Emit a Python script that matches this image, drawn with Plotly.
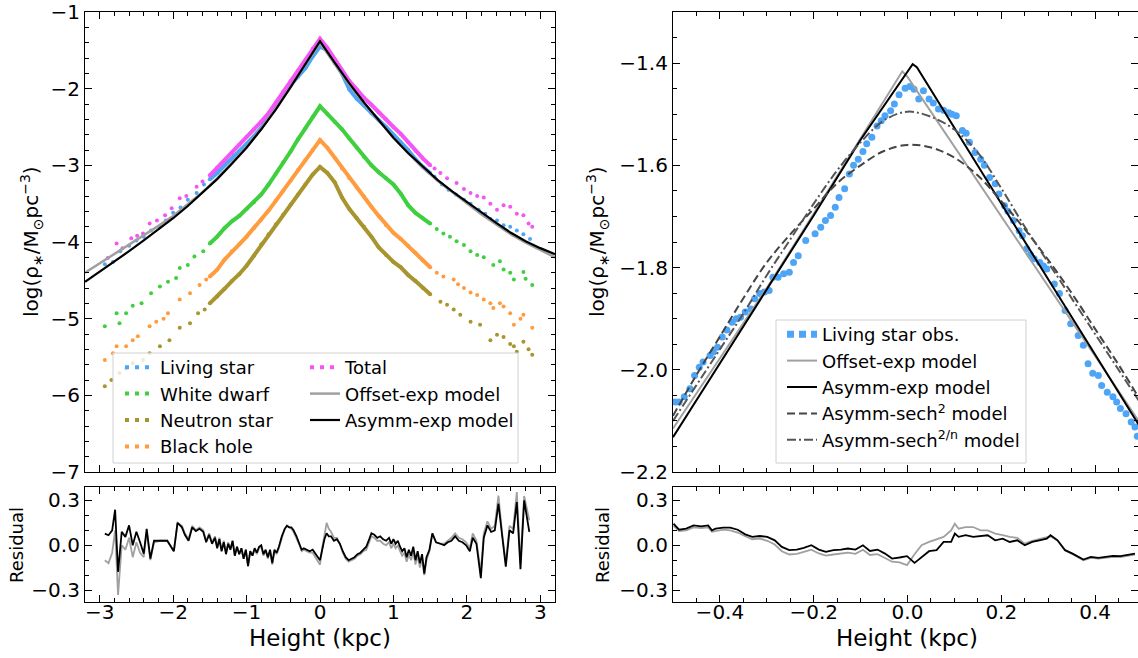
import plotly.graph_objects as go

# ---------------- DATA ----------------
# Left panel: dense central region (|z| <= 1.5 kpc), step 0.1 kpc
Z_DENSE = [-1.5, -1.4, -1.3, -1.2, -1.1, -1.0, -0.9, -0.8, -0.7, -0.6, -0.5, -0.4, -0.3, -0.2, -0.1, 0.0,
           0.1, 0.2, 0.3, 0.4, 0.5, 0.6, 0.7, 0.8, 0.9, 1.0, 1.1, 1.2, 1.3, 1.4, 1.5]
total_dense = [-3.13, -3.03, -2.94, -2.84, -2.73, -2.63, -2.53, -2.43, -2.32, -2.18, -2.04, -1.90, -1.77, -1.63, -1.48, -1.35,
               -1.47, -1.62, -1.77, -1.90, -2.01, -2.12, -2.21, -2.31, -2.40, -2.50, -2.59, -2.70, -2.81, -2.91, -3.00]
living_dense = [-3.18, -3.10, -3.00, -2.91, -2.82, -2.72, -2.62, -2.51, -2.37, -2.20, -2.06, -1.95, -1.845, -1.735, -1.58, -1.45,
                -1.50, -1.665, -1.805, -2.01, -2.13, -2.22, -2.32, -2.41, -2.50, -2.60, -2.70, -2.80, -2.92, -3.02, -3.10]
wd_dense = [-4.02, -3.93, -3.82, -3.73, -3.66, -3.57, -3.48, -3.38, -3.25, -3.11, -2.96, -2.82, -2.66, -2.52, -2.37, -2.23,
            -2.33, -2.43, -2.53, -2.65, -2.77, -2.89, -3.00, -3.09, -3.17, -3.25, -3.37, -3.52, -3.62, -3.69, -3.76]
ns_dense = [-4.80, -4.71, -4.61, -4.51, -4.42, -4.31, -4.18, -4.03, -3.90, -3.77, -3.64, -3.51, -3.38, -3.25, -3.12, -3.02,
            -3.10, -3.22, -3.42, -3.57, -3.69, -3.80, -3.93, -4.07, -4.17, -4.26, -4.33, -4.43, -4.51, -4.60, -4.68]
bh_dense = [-4.45, -4.36, -4.23, -4.12, -4.03, -3.93, -3.82, -3.71, -3.59, -3.46, -3.33, -3.20, -3.06, -2.93, -2.80, -2.67,
            -2.77, -2.90, -3.04, -3.17, -3.29, -3.41, -3.54, -3.66, -3.78, -3.88, -3.96, -4.05, -4.14, -4.24, -4.33]

# Left panel: sparse outer points (z, value)
total_out_z = [-2.89, -2.77, -2.69, -2.57, -2.49, -2.41, -2.32, -2.22, -2.11, -2.02, -1.91, -1.82, -1.68, -1.60,
               1.56, 1.64, 1.73, 1.86, 1.96, 2.05, 2.14, 2.23, 2.32, 2.41, 2.50, 2.59, 2.68, 2.77, 2.84, 2.89]
total_out_v = [-4.21, -4.02, -4.08, -3.95, -3.92, -3.89, -3.76, -3.72, -3.65, -3.56, -3.43, -3.40, -3.28, -3.21,
               -3.04, -3.10, -3.17, -3.23, -3.31, -3.36, -3.40, -3.42, -3.50, -3.58, -3.52, -3.54, -3.63, -3.65, -3.76, -3.80]
living_out_z = [-2.93, -2.82, -2.72, -2.60, -2.50, -2.40, -2.30, -2.18, -2.10, -2.00, -1.90, -1.80, -1.68, -1.58,
                1.56, 1.66, 1.75, 1.85, 1.96, 2.05, 2.16, 2.25, 2.32, 2.41, 2.50, 2.59, 2.68, 2.77, 2.86]
living_out_v = [-4.29, -4.26, -4.12, -4.05, -3.98, -3.93, -3.85, -3.80, -3.72, -3.62, -3.55, -3.45, -3.36, -3.25,
                -3.15, -3.25, -3.32, -3.38, -3.45, -3.50, -3.58, -3.63, -3.70, -3.72, -3.78, -3.80, -3.85, -3.90, -3.96]
wd_out_z = [-2.93, -2.77, -2.73, -2.64, -2.55, -2.43, -2.30, -2.18, -2.07, -1.96, -1.91, -1.80, -1.71, -1.59,
            1.59, 1.68, 1.77, 1.86, 1.96, 2.05, 2.14, 2.23, 2.36, 2.45, 2.50, 2.59, 2.64, 2.77, 2.80, 2.89]
wd_out_v = [-5.10, -4.93, -5.06, -4.93, -4.83, -4.80, -4.67, -4.58, -4.52, -4.47, -4.34, -4.30, -4.19, -4.12,
            -3.83, -3.89, -3.93, -3.99, -4.04, -4.12, -4.17, -4.20, -4.30, -4.25, -4.36, -4.40, -4.49, -4.39, -4.48, -4.56]
ns_out_z = [-2.93, -2.84, -2.73, -2.64, -2.55, -2.41, -2.32, -2.18, -2.05, -1.91, -1.77, -1.66, -1.57,
            1.64, 1.73, 1.82, 1.91, 2.05, 2.18, 2.32, 2.41, 2.50, 2.59, 2.64, 2.68, 2.77, 2.84, 2.89]
ns_out_v = [-5.88, -5.80, -5.71, -5.65, -5.58, -5.54, -5.45, -5.36, -5.28, -5.12, -5.06, -4.93, -4.88,
            -4.78, -4.82, -4.88, -4.95, -5.04, -5.08, -5.28, -5.21, -5.24, -5.33, -5.36, -5.43, -5.30, -5.40, -5.47]
bh_out_z = [-2.93, -2.82, -2.77, -2.64, -2.55, -2.48, -2.32, -2.23, -2.13, -2.07, -1.91, -1.77, -1.64, -1.55,
            1.59, 1.68, 1.82, 1.88, 1.96, 2.05, 2.14, 2.23, 2.32, 2.36, 2.45, 2.50, 2.59, 2.64, 2.73, 2.77, 2.89]
bh_out_v = [-5.54, -5.45, -5.36, -5.36, -5.28, -5.23, -5.10, -5.04, -5.00, -4.93, -4.75, -4.67, -4.56, -4.49,
            -4.40, -4.45, -4.49, -4.55, -4.60, -4.66, -4.69, -4.75, -4.80, -4.86, -4.80, -4.84, -4.93, -5.08, -5.00, -4.95, -5.12]

# Left panel model curves
Z_MODEL = [-3.2, -3.0, -2.8, -2.6, -2.4, -2.2, -2.0, -1.8, -1.6, -1.4, -1.2, -1.0, -0.8, -0.6, -0.4, -0.2, 0.0,
           0.2, 0.4, 0.6, 0.8, 1.0, 1.2, 1.4, 1.6, 1.8, 2.0, 2.2, 2.4, 2.6, 2.8, 3.0, 3.2]
asymm_exp = [-4.52, -4.39, -4.26, -4.12, -3.98, -3.84, -3.69, -3.53, -3.36, -3.18, -2.98, -2.77, -2.53, -2.27, -1.98, -1.68, -1.38,
             -1.66, -1.93, -2.18, -2.41, -2.64, -2.84, -3.02, -3.19, -3.34, -3.48, -3.62, -3.75, -3.88, -3.99, -4.08, -4.16]
offset_exp = [-4.40, -4.28, -4.16, -4.04, -3.92, -3.79, -3.66, -3.51, -3.35, -3.17, -2.97, -2.76, -2.52, -2.26, -1.98, -1.69, -1.40,
              -1.68, -1.95, -2.19, -2.42, -2.64, -2.84, -3.03, -3.20, -3.35, -3.50, -3.64, -3.77, -3.90, -4.01, -4.11, -4.20]

# Left residuals
res_l_z = [-2.93, -2.88, -2.83, -2.79, -2.75, -2.70, -2.65, -2.60, -2.55, -2.50, -2.45, -2.40, -2.36, -2.31, -2.26, -2.18, -2.08,
           -1.99, -1.94, -1.88, -1.84, -1.79, -1.74, -1.69, -1.64, -1.59, -1.55, -1.51, -1.47, -1.43, -1.40, -1.37, -1.34, -1.31,
           -1.28, -1.25, -1.22, -1.19, -1.16, -1.13, -1.10, -1.07, -1.04, -1.01, -0.98, -0.95, -0.92, -0.89, -0.86, -0.83, -0.80,
           -0.77, -0.74, -0.71, -0.68, -0.65, -0.62, -0.59, -0.56, -0.52, -0.48, -0.45, -0.42, -0.39, -0.36, -0.32, -0.28, -0.25,
           -0.22, -0.18, -0.14, -0.10, -0.06, -0.03, 0.00, 0.03, 0.06, 0.09, 0.12, 0.15, 0.19, 0.23, 0.27, 0.31, 0.35, 0.39, 0.43,
           0.47, 0.51, 0.55, 0.59, 0.63, 0.67, 0.70, 0.74, 0.78, 0.82, 0.86, 0.90, 0.94, 0.97, 1.00, 1.03, 1.06, 1.09, 1.12, 1.15,
           1.18, 1.21, 1.24, 1.27, 1.30, 1.33, 1.36, 1.39, 1.42, 1.45, 1.49, 1.53, 1.58, 1.64, 1.69, 1.74, 1.79, 1.84, 1.89, 1.94,
           1.99, 2.04, 2.08, 2.13, 2.19, 2.23, 2.28, 2.33, 2.38, 2.43, 2.48, 2.53, 2.58, 2.63, 2.68, 2.73, 2.78, 2.85]
res_l_asymm = [0.078, 0.067, 0.100, 0.238, -0.178, 0.090, 0.056, 0.133, 0.000, 0.090, 0.020, -0.056, 0.110, -0.090, 0.030, 0.030, 0.030,
               -0.040, 0.150, 0.120, 0.070, 0.030, 0.120, 0.095, 0.110, 0.090, 0.020, 0.070, 0.010, 0.050, -0.020, 0.040, -0.040, 0.020,
               -0.060, 0.010, -0.030, 0.030, -0.070, -0.010, -0.060, -0.020, -0.090, -0.030, -0.140, -0.040, -0.070, -0.020, -0.050, -0.010, 0.000,
               -0.060, -0.030, -0.080, -0.030, -0.120, -0.030, -0.050, -0.010, 0.060, 0.110, 0.130, 0.120, 0.120, 0.100, 0.060, 0.010, -0.030,
               -0.020, -0.030, -0.040, -0.030, -0.060, -0.080, -0.100, -0.030, 0.040, 0.080, 0.060, 0.060, 0.030, 0.040, 0.010, -0.040, -0.080, -0.100, -0.090,
               -0.080, -0.060, -0.050, -0.030, -0.010, 0.040, 0.080, 0.070, 0.050, 0.060, 0.040, 0.030, 0.050, 0.010, 0.040, 0.010, 0.030, -0.010, -0.040, -0.020,
               -0.080, -0.030, -0.070, -0.010, -0.100, -0.040, -0.120, -0.060, -0.190, -0.080, -0.030, 0.080, 0.020, 0.010, 0.000, 0.020, 0.030, 0.060, 0.030, 0.020,
               0.000, -0.040, 0.050, 0.010, -0.220, 0.050, 0.133, 0.089, 0.100, 0.278, 0.056, -0.144, 0.100, 0.080, 0.289, -0.160, 0.300, 0.090]
res_l_offset = [-0.100, -0.120, -0.050, 0.100, -0.333, 0.000, -0.030, 0.050, -0.080, 0.020, -0.050, -0.080, 0.090, -0.100, 0.020, 0.030, 0.030,
                -0.040, 0.150, 0.130, 0.080, 0.040, 0.130, 0.100, 0.120, 0.100, 0.030, 0.080, 0.020, 0.060, -0.010, 0.050, -0.030, 0.030,
                -0.050, 0.020, -0.020, 0.030, -0.070, -0.010, -0.060, -0.020, -0.090, -0.030, -0.140, -0.040, -0.070, -0.030, -0.060, -0.020, -0.010,
                -0.070, -0.040, -0.090, -0.040, -0.130, -0.040, -0.060, -0.020, 0.050, 0.110, 0.130, 0.120, 0.110, 0.090, 0.050, 0.000, -0.040,
                -0.030, -0.040, -0.050, -0.050, -0.080, -0.100, -0.130, -0.020, 0.080, 0.150, 0.110, 0.090, 0.050, 0.050, 0.010, -0.050, -0.090, -0.110, -0.100,
                -0.090, -0.070, -0.060, -0.040, -0.030, 0.020, 0.060, 0.050, 0.030, 0.030, 0.010, 0.000, 0.020, -0.020, 0.010, -0.020, 0.000, -0.040, -0.070, -0.050,
                -0.110, -0.060, -0.100, -0.040, -0.130, -0.070, -0.150, -0.090, -0.200, -0.100, -0.040, 0.080, 0.020, 0.010, 0.010, 0.030, 0.050, 0.080, 0.050, 0.040,
                0.020, -0.020, 0.080, 0.030, -0.180, 0.080, 0.160, 0.110, 0.130, 0.333, 0.080, -0.120, 0.130, 0.110, 0.356, -0.120, 0.330, 0.167]

# Right panel: living-star observations
obs_z = [-0.495, -0.487, -0.476, -0.464, -0.454, -0.444, -0.436, -0.421, -0.414, -0.405, -0.395, -0.385, -0.374, -0.365, -0.356,
         -0.346, -0.334, -0.326, -0.315, -0.305, -0.295, -0.287, -0.276, -0.264, -0.252, -0.243, -0.233, -0.217, -0.197, -0.185,
         -0.175, -0.164, -0.154, -0.146, -0.134, -0.124, -0.115, -0.105, -0.095, -0.087, -0.076, -0.065, -0.056, -0.048, -0.036,
         -0.028, -0.018, -0.005, 0.005, 0.014, 0.024, 0.034, 0.046, 0.055, 0.066, 0.077, 0.088, 0.095, 0.104, 0.117, 0.125, 0.132,
         0.144, 0.156, 0.164, 0.175, 0.187, 0.195, 0.207, 0.214, 0.226, 0.238, 0.245, 0.254, 0.262, 0.270, 0.282, 0.290, 0.297,
         0.313, 0.324, 0.336, 0.348, 0.364, 0.375, 0.385, 0.395, 0.407, 0.414, 0.426, 0.438, 0.446, 0.454, 0.466, 0.477, 0.485, 0.490]
obs_v = [-2.063, -2.063, -2.053, -2.037, -2.011, -1.995, -1.985, -1.972, -1.965, -1.956, -1.936, -1.922, -1.907, -1.900, -1.897,
         -1.887, -1.881, -1.861, -1.851, -1.848, -1.845, -1.819, -1.819, -1.812, -1.809, -1.790, -1.777, -1.747, -1.734, -1.721,
         -1.708, -1.698, -1.682, -1.663, -1.646, -1.617, -1.600, -1.588, -1.573, -1.558, -1.545, -1.523, -1.513, -1.503, -1.493,
         -1.480, -1.462, -1.449, -1.446, -1.451, -1.470, -1.454, -1.470, -1.478, -1.490, -1.492, -1.497, -1.500, -1.503, -1.532, -1.537, -1.555,
         -1.575, -1.588, -1.600, -1.624, -1.636, -1.656, -1.679, -1.690, -1.708, -1.728, -1.738, -1.763, -1.775, -1.783, -1.790, -1.797, -1.803,
         -1.832, -1.851, -1.884, -1.910, -1.933, -1.952, -1.988, -2.007, -2.011, -2.031, -2.044, -2.053, -2.063, -2.076, -2.086, -2.102, -2.112, -2.130]

# Right panel model curves
r_exp_z = [-0.5, -0.4, -0.3, -0.2, -0.1, 0.011, 0.02, 0.1, 0.2, 0.3, 0.4, 0.5]
r_asymm_exp = [-2.132, -1.988, -1.843, -1.698, -1.550, -1.402, -1.408, -1.527, -1.675, -1.823, -1.970, -2.118]
r_off_z = [-0.5, -0.4, -0.3, -0.2, -0.1, -0.011, 0.0, 0.1, 0.2, 0.3, 0.4, 0.5]
r_offset_exp = [-2.115, -1.978, -1.840, -1.695, -1.548, -1.416, -1.427, -1.563, -1.700, -1.836, -1.973, -2.110]
r_sech_z = [-0.5, -0.45, -0.4, -0.35, -0.3, -0.25, -0.2, -0.15, -0.1, -0.05, 0.0, 0.05, 0.1, 0.15, 0.2, 0.25, 0.3, 0.35, 0.4, 0.45, 0.5]
r_sech2 = [-2.090, -2.010, -1.935, -1.860, -1.790, -1.735, -1.685, -1.635, -1.600, -1.572, -1.560, -1.565, -1.585, -1.620, -1.670,
           -1.725, -1.785, -1.850, -1.920, -1.990, -2.065]
r_sech2n = [-2.100, -2.030, -1.960, -1.890, -1.815, -1.745, -1.675, -1.610, -1.555, -1.512, -1.495, -1.505, -1.530, -1.575, -1.645,
            -1.720, -1.790, -1.860, -1.930, -2.000, -2.070]

# Right residuals
res_r_z = [-0.499, -0.487, -0.472, -0.456, -0.440, -0.425, -0.417, -0.409, -0.393, -0.378, -0.362, -0.346, -0.331, -0.315, -0.299,
           -0.283, -0.268, -0.252, -0.236, -0.221, -0.205, -0.189, -0.174, -0.158, -0.142, -0.127, -0.111, -0.095, -0.080, -0.064,
           -0.048, -0.033, -0.017, -0.001, 0.015, 0.030, 0.046, 0.062, 0.077, 0.093, 0.101, 0.109, 0.124, 0.140, 0.156, 0.171,
           0.187, 0.203, 0.218, 0.234, 0.250, 0.266, 0.281, 0.297, 0.305, 0.320, 0.336, 0.352, 0.375, 0.391, 0.407, 0.422, 0.438,
           0.454, 0.469, 0.485]
res_r_asymm = [0.144, 0.104, 0.111, 0.133, 0.127, 0.133, 0.100, 0.111, 0.118, 0.118, 0.104, 0.073, 0.056, 0.062, 0.056,
               0.033, -0.011, -0.033, -0.029, -0.018, 0.000, -0.029, -0.044, -0.033, -0.029, -0.022, -0.029, 0.000, -0.038, -0.029,
               -0.056, -0.089, -0.082, -0.073, -0.118, -0.082, -0.040, -0.033, 0.022, 0.022, 0.078, 0.056, 0.067, 0.056, 0.060, 0.067,
               0.033, 0.044, 0.022, 0.033, 0.000, 0.022, 0.033, 0.044, 0.067, 0.033, -0.033, -0.056, -0.096, -0.078, -0.084, -0.078, -0.071,
               -0.073, -0.067, -0.056]
res_r_offset = [0.130, 0.095, 0.100, 0.120, 0.115, 0.120, 0.090, 0.095, 0.105, 0.100, 0.085, 0.060, 0.040, 0.045, 0.030,
                0.005, -0.040, -0.062, -0.058, -0.045, -0.030, -0.055, -0.070, -0.062, -0.058, -0.050, -0.058, -0.030, -0.065, -0.060,
                -0.085, -0.110, -0.115, -0.133, -0.060, 0.000, 0.022, 0.040, 0.056, 0.100, 0.144, 0.111, 0.122, 0.122, 0.100, 0.100,
                0.078, 0.067, 0.056, 0.050, 0.011, 0.030, 0.040, 0.050, 0.060, 0.030, -0.033, -0.060, -0.100, -0.085, -0.090, -0.085, -0.078,
                -0.080, -0.072, -0.063]

# ---------------- STYLE ----------------
FW, FH = 1138, 658
C_LIVING = "#4ea5f7"
C_WD = "#3fcf3f"
C_NS = "#a8952f"
C_BH = "#ff9c40"
C_TOT = "#f455f4"
C_GRAY = "#a0a0a0"
FONT = "DejaVu Sans"
YTITLE = "log(ρ<sub>∗</sub>/M<sub>⊙</sub>pc<sup>−3</sup>)"


def fx(px):
    """page pixel x -> paper fraction"""
    return px / FW


def fy(py):
    """page pixel y -> paper fraction"""
    return 1 - py / FH


fig = go.Figure()

# ---- left main panel ----
for zd, vd, zo, vo, col in [
    (Z_DENSE, living_dense, living_out_z, living_out_v, C_LIVING),
    (Z_DENSE, wd_dense, wd_out_z, wd_out_v, C_WD),
    (Z_DENSE, ns_dense, ns_out_z, ns_out_v, C_NS),
    (Z_DENSE, bh_dense, bh_out_z, bh_out_v, C_BH),
    (Z_DENSE, total_dense, total_out_z, total_out_v, C_TOT),
]:
    fig.add_trace(go.Scatter(x=zd, y=vd, mode="lines+markers", line=dict(color=col, width=4),
                             marker=dict(color=col, size=4), showlegend=False, xaxis="x", yaxis="y"))
    fig.add_trace(go.Scatter(x=zo, y=vo, mode="markers", marker=dict(color=col, size=4),
                             showlegend=False, xaxis="x", yaxis="y"))

fig.add_trace(go.Scatter(x=Z_MODEL, y=offset_exp, mode="lines", line=dict(color=C_GRAY, width=2.5),
                         showlegend=False, xaxis="x", yaxis="y"))
fig.add_trace(go.Scatter(x=Z_MODEL, y=asymm_exp, mode="lines", line=dict(color="black", width=2.2),
                         showlegend=False, xaxis="x", yaxis="y"))

# legend entries (left)
for i, (name, col, lg) in enumerate([("Living star", C_LIVING, "legend"), ("White dwarf", C_WD, "legend"),
                                     ("Neutron star", C_NS, "legend"), ("Black hole", C_BH, "legend"),
                                     ("Total", C_TOT, "legend3")]):
    fig.add_trace(go.Scatter(x=[None], y=[None], mode="lines", name=name, legend=lg, legendgroup="l%d" % i,
                             line=dict(color=col, width=4, dash="4px,6px"), xaxis="x", yaxis="y"))
fig.add_trace(go.Scatter(x=[None], y=[None], mode="lines", name="Offset-exp model", legend="legend3", legendgroup="l5",
                         line=dict(color=C_GRAY, width=2.5), xaxis="x", yaxis="y"))
fig.add_trace(go.Scatter(x=[None], y=[None], mode="lines", name="Asymm-exp model", legend="legend3", legendgroup="l6",
                         line=dict(color="black", width=2.2), xaxis="x", yaxis="y"))

# ---- left residuals ----
fig.add_trace(go.Scatter(x=res_l_z, y=res_l_offset, mode="lines", line=dict(color=C_GRAY, width=1.8),
                         showlegend=False, xaxis="x2", yaxis="y2"))
fig.add_trace(go.Scatter(x=res_l_z, y=res_l_asymm, mode="lines", line=dict(color="black", width=1.8),
                         showlegend=False, xaxis="x2", yaxis="y2"))

# ---- right main panel ----
fig.add_trace(go.Scatter(x=obs_z, y=obs_v, mode="markers", marker=dict(color=C_LIVING, size=7),
                         showlegend=False, xaxis="x3", yaxis="y3"))
fig.add_trace(go.Scatter(x=r_off_z, y=r_offset_exp, mode="lines", line=dict(color=C_GRAY, width=2),
                         showlegend=False, xaxis="x3", yaxis="y3"))
fig.add_trace(go.Scatter(x=r_exp_z, y=r_asymm_exp, mode="lines", line=dict(color="black", width=2),
                         showlegend=False, xaxis="x3", yaxis="y3"))
fig.add_trace(go.Scatter(x=r_sech_z, y=r_sech2, mode="lines", line=dict(color="#444444", width=2, dash="8px,4px"),
                         showlegend=False, xaxis="x3", yaxis="y3", line_shape="spline"))
fig.add_trace(go.Scatter(x=r_sech_z, y=r_sech2n, mode="lines",
                         line=dict(color="#555555", width=2, dash="9px,3px,2px,3px"),
                         showlegend=False, xaxis="x3", yaxis="y3", line_shape="spline"))

for i, (name, ln) in enumerate([("Living star obs.", dict(color=C_LIVING, width=7, dash="7px,5px")),
                                ("Offset-exp model", dict(color=C_GRAY, width=2)),
                                ("Asymm-exp model", dict(color="black", width=2)),
                                ("Asymm-sech<sup>2</sup> model", dict(color="#444444", width=2, dash="8px,4px")),
                                ("Asymm-sech<sup>2/n</sup> model", dict(color="#555555", width=2, dash="9px,3px,2px,3px"))]):
    fig.add_trace(go.Scatter(x=[None], y=[None], mode="lines", name=name, legend="legend2", legendgroup="r%d" % i,
                             line=ln, xaxis="x3", yaxis="y3"))

# ---- right residuals ----
fig.add_trace(go.Scatter(x=res_r_z, y=res_r_offset, mode="lines", line=dict(color=C_GRAY, width=1.8),
                         showlegend=False, xaxis="x4", yaxis="y4"))
fig.add_trace(go.Scatter(x=res_r_z, y=res_r_asymm, mode="lines", line=dict(color="black", width=1.8),
                         showlegend=False, xaxis="x4", yaxis="y4"))

# ---------------- AXES ----------------
tickfont = dict(family=FONT, size=20, color="black")


def ax(**kw):
    d = dict(showline=True, linecolor="black", linewidth=1.2, mirror="ticks", ticks="inside", ticklen=7,
             tickwidth=1.2, tickcolor="black", showgrid=False, zeroline=False, tickfont=tickfont,
             automargin=False, ticklabeloverflow="allow")
    d.update(kw)
    return d


def minor(dt):
    return dict(ticks="inside", ticklen=4, tickwidth=1, tickcolor="black", dtick=dt, tick0=0, showgrid=False)


LX = [fx(85), fx(555)]
RX = [fx(673), 1.0]
MAIN_Y = [fy(472), fy(12)]
RES_Y = [fy(602), fy(487)]

ann = []
for xc in (320, 907):
    ann.append(dict(text="Height (kpc)", x=fx(xc), y=fy(638), xref="paper", yref="paper", showarrow=False,
                    xanchor="center", yanchor="middle", font=dict(family=FONT, size=23, color="black")))
for xc in (31, 597):
    ann.append(dict(text=YTITLE, x=fx(xc), y=fy(242), xref="paper", yref="paper", showarrow=False, textangle=-90,
                    xanchor="center", yanchor="middle", font=dict(family=FONT, size=20, color="black")))
for xc in (16, 602):
    ann.append(dict(text="Residual", x=fx(xc), y=fy(545), xref="paper", yref="paper", showarrow=False, textangle=-90,
                    xanchor="center", yanchor="middle", font=dict(family=FONT, size=18, color="black")))

legfont = dict(family=FONT, size=18, color="black")
fig.update_layout(
    width=FW, height=FH, margin=dict(l=0, r=0, t=0, b=0),
    paper_bgcolor="white", plot_bgcolor="white",
    font=dict(family=FONT, color="black"),
    xaxis=ax(domain=LX, anchor="y", range=[-3.2, 3.2], dtick=1, tick0=0, showticklabels=False, minor=minor(0.2)),
    yaxis=ax(domain=MAIN_Y, anchor="x", range=[-7, -1], dtick=1, tick0=0, minor=minor(0.2)),
    xaxis2=ax(domain=LX, anchor="y2", range=[-3.2, 3.2], dtick=1, tick0=0, minor=minor(0.2), ticklabelstandoff=-8),
    yaxis2=ax(domain=RES_Y, anchor="x2", range=[-0.38, 0.39], dtick=0.3, tick0=0, tickformat=".1f", minor=minor(0.1)),
    xaxis3=ax(domain=RX, anchor="y3", range=[-0.5, 0.4915], dtick=0.2, tick0=0, showticklabels=False, minor=minor(0.05)),
    yaxis3=ax(domain=MAIN_Y, anchor="x3", range=[-2.2, -1.3], dtick=0.2, tick0=0, tickformat=".1f", minor=minor(0.05)),
    xaxis4=ax(domain=RX, anchor="y4", range=[-0.5, 0.4915], dtick=0.2, tick0=0, tickformat=".1f", minor=minor(0.05),
              ticklabelstandoff=-8),
    yaxis4=ax(domain=RES_Y, anchor="x4", range=[-0.38, 0.39], dtick=0.3, tick0=0, tickformat=".1f", minor=minor(0.1)),
    legend=dict(x=fx(120), y=fy(349), xanchor="left", yanchor="top", bgcolor="rgba(0,0,0,0)",
                font=legfont, tracegroupgap=0, itemwidth=30),
    legend3=dict(x=fx(305), y=fy(349), xanchor="left", yanchor="top", bgcolor="rgba(0,0,0,0)",
                 font=legfont, tracegroupgap=0, itemwidth=30),
    legend2=dict(x=fx(782), y=fy(316), xanchor="left", yanchor="top", bgcolor="rgba(0,0,0,0)",
                 font=legfont, tracegroupgap=0, itemwidth=30),
    annotations=ann,
    shapes=[
        dict(type="rect", xref="paper", yref="paper", x0=fx(113), x1=fx(518), y0=fy(463), y1=fy(353),
             line=dict(color="#d0d0d0", width=1), fillcolor="rgba(255,255,255,0.8)", layer="above"),
        dict(type="rect", xref="paper", yref="paper", x0=fx(776), x1=fx(1026), y0=fy(463), y1=fy(320),
             line=dict(color="#d0d0d0", width=1), fillcolor="rgba(255,255,255,0.8)", layer="above"),
    ],
)

# remove the browser's default 8px page margin so the 1138x658 figure fills the window exactly
fig.write_html("out.html", config={"displayModeBar": False},
               post_script="document.body.style.margin='0px';document.body.style.overflow='hidden';")
